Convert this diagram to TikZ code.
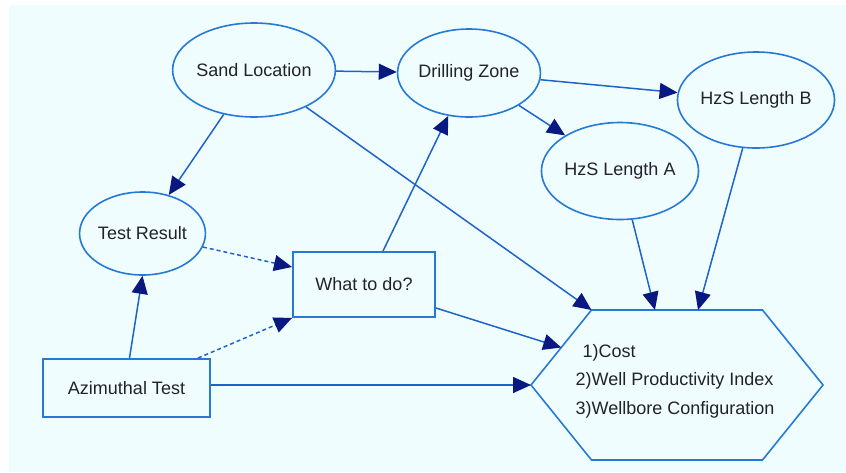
\documentclass[tikz,border=0pt]{standalone}
\usepackage{fontspec}
\setmainfont{Liberation Sans}
\usetikzlibrary{shapes.geometric,arrows.meta,calc}
\definecolor{paper}{RGB}{240,253,255}
\definecolor{rim}{RGB}{38,122,212}
\definecolor{wire}{RGB}{30,100,200}
\definecolor{tipnavy}{RGB}{10,24,130}
\definecolor{ink}{RGB}{34,34,40}
\begin{document}
\begin{tikzpicture}[x=1pt,y=-1pt,
  every node/.style={font=\fontsize{18}{28.5}\selectfont, text=ink},
  chance/.style={ellipse, draw=rim, line width=1.6pt, inner sep=0pt},
  decision/.style={rectangle, draw=rim, line width=1.9pt, inner sep=0pt},
  link/.style={draw=wire, line width=1.5pt, -{Triangle[length=18pt,width=16pt,color=tipnavy]}},
  hint/.style={link, dash pattern=on 4pt off 3pt}]

% canvas
\fill[white] (0,0) rectangle (846,472);
\fill[paper] (9,5) rectangle (846,472);
\useasboundingbox (0,0) rectangle (846,472);

% chance nodes
\node[chance, minimum width=138pt, minimum height=94pt] (sand)  at (254,70)    {Sand Location};
\node[chance, minimum width=122pt, minimum height=88pt] (drill) at (469,73)    {Drilling Zone};
\node[chance, minimum width=134pt, minimum height=96pt] (hzb)   at (756,100)   {HzS Length B};
\node[chance, minimum width=134pt, minimum height=97pt] (hza)   at (620,171)   {HzS Length A};
\node[chance, minimum width=119pt, minimum height=83pt] (test)  at (142.5,233.5) {Test Result};

% decision nodes
\node[decision, minimum width=142pt, minimum height=65pt] (what) at (364,284.5) {What to do?};
\node[decision, minimum width=167pt, minimum height=58pt] (azi)  at (126.5,388) {Azimuthal Test};

% value node (hexagon)
\coordinate (hexc) at (677,385);
\coordinate (hexTL) at ($(hexc)+(-85.5,-75)$);
\coordinate (hexTR) at ($(hexc)+(85.5,-75)$);
\coordinate (hexR)  at ($(hexc)+(146,0)$);
\coordinate (hexBR) at ($(hexc)+(85.5,75)$);
\coordinate (hexBL) at ($(hexc)+(-85.5,75)$);
\coordinate (hexL)  at ($(hexc)+(-146,0)$);
\draw[rim, line width=1.6pt, line join=miter]
  (hexTL) -- (hexTR) -- (hexR) -- (hexBR) -- (hexBL) -- (hexL) -- cycle;
\node[align=left, inner sep=0pt] (value) at (675,381)
  {\hspace*{7pt}1)Cost\\2)Well Productivity Index\\3)Wellbore Configuration};

% docking points on the hexagon
\coordinate (inA)   at ($(hexTL)!0.371!(hexTR)$);
\coordinate (inB)   at ($(hexTL)!0.623!(hexTR)$);
\coordinate (inWhat) at ($(hexTL)!0.5!(hexL)$);

% connectors
\draw[link] (sand) -- (drill);
\draw[link] (drill) -- (hzb);
\draw[link] (drill) -- (hza);
\draw[link] (sand) -- (test);
\draw[link] (sand) -- (hexTL);
\draw[link] ($(what.north)+(19,0)$) -- (drill);
\draw[hint] (test) -- ($(what.west)+(0,-17.5)$);
\draw[hint] ($(azi.north east)+(-13,0)$) -- (what.south west);
\draw[link] ($(azi.north)+(3,0)$) -- (test.south);
\draw[link] ($(what.east)+(0,23.5)$) -- (inWhat);
\draw[link] (azi.east |- hexL) -- (hexL);
\draw[link] (hza) -- (inA);
\draw[link] (hzb) -- (inB);
\end{tikzpicture}
\end{document}
